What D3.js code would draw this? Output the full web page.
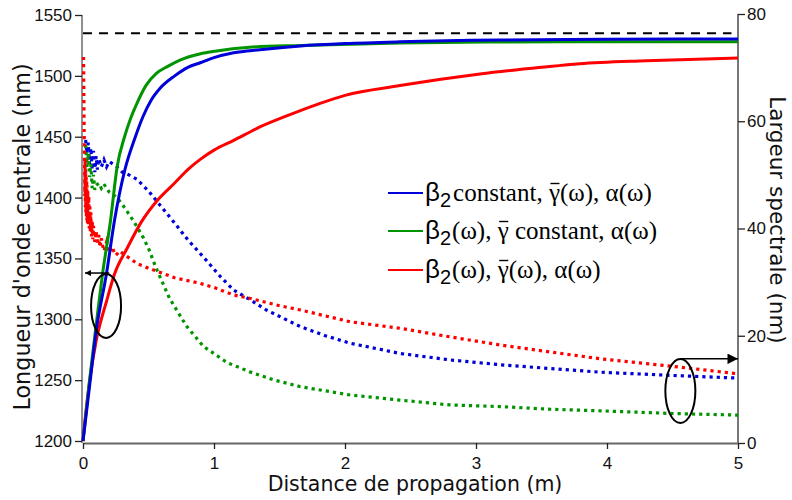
<!DOCTYPE html>
<html><head><meta charset="utf-8">
<script src="https://cdn.jsdelivr.net/npm/d3@7/dist/d3.min.js"></script>
<style>body{margin:0;background:#fff}svg{display:block}</style>
</head><body>
<svg id="c" width="792" height="500"></svg>
<script>
// ---- data ----
const xTicks = [0, 1, 2, 3, 4, 5];
const leftTicks = [1200, 1250, 1300, 1350, 1400, 1450, 1500, 1550];
const rightTicks = [0, 20, 40, 60, 80];
const legendLabels = ["constant, γ̄(ω), α(ω)", "(ω), γ̄ constant, α(ω)", "(ω), γ̄(ω), α(ω)"];
const seriesColors = ["#0000d8", "#009400", "#ff0000"];
const referenceWavelength = 1535; // dashed line (nm)
const referenceRange = [0, 4.95];

// central wavelength (nm) vs distance (m)  -- solid lines
const lambdaBlue = [[0,1200],[0.05,1245],[0.1,1290],[0.18,1338],[0.24,1381],[0.32,1423],[0.4,1450],[0.46,1467],[0.52,1480],[0.59,1490],[0.7,1500],[0.8,1507],[0.9,1511],[1.0,1515],[1.15,1519],[1.35,1521.5],[1.66,1524.5],[2.0,1526.5],[2.42,1528],[3.18,1529.5],[4.0,1530],[5.0,1530.3]];
const lambdaGreen = [[0,1200],[0.05,1250],[0.1,1295],[0.15,1338],[0.21,1381],[0.26,1425],[0.32,1451],[0.36,1464],[0.41,1477],[0.48,1492],[0.56,1502],[0.65,1508],[0.74,1513],[0.89,1518],[1.02,1520.5],[1.27,1523.5],[1.66,1525],[2.42,1527],[3.18,1527.8],[4.0,1528],[5.0,1528]];
const lambdaRed = [[0,1200],[0.02,1222],[0.05,1249],[0.1,1282],[0.18,1315],[0.24,1337],[0.34,1359],[0.44,1379],[0.57,1398],[0.7,1412],[0.8,1423],[0.89,1431],[1.0,1439],[1.15,1447],[1.35,1458],[1.6,1469],[1.8,1477],[2.0,1484],[2.42,1492],[3.03,1501.5],[3.5,1507],[3.79,1510],[4.3,1512.5],[5.0,1514.7]];

// spectral width (nm) vs distance (m)  -- dotted lines
const widthBlue = [[0.02,56.5],[0.03,54],[0.04,56],[0.05,52],[0.06,55],[0.07,51],[0.08,54.5],[0.09,50.5],[0.1,53.5],[0.11,51],[0.12,53],[0.14,51.5],[0.16,52.8],[0.18,51.5],[0.2,52.5],[0.23,52],[0.26,51.5],[0.3,50.5],[0.35,50],[0.41,49.2],[0.5,47],[0.59,44.3],[0.7,41],[0.8,37.9],[0.94,34.1],[1.05,31],[1.15,28.5],[1.27,26.8],[1.4,24.8],[1.66,21.7],[1.85,20],[2.04,18.6],[2.42,16.7],[2.8,15.5],[3.18,14.6],[3.56,13.9],[3.95,13.2],[4.5,12.6],[5.0,12.1]];
const widthGreen = [[0.02,55.6],[0.03,51.5],[0.04,54],[0.05,49.6],[0.06,52],[0.07,47.5],[0.08,50],[0.09,47.2],[0.1,48],[0.12,48.5],[0.14,47.5],[0.16,48.3],[0.18,47.5],[0.2,46.8],[0.26,45.8],[0.32,43.8],[0.38,41.6],[0.42,40],[0.46,38.3],[0.5,36.3],[0.56,32.5],[0.66,27],[0.79,21.8],[0.92,18],[1.1,15],[1.27,13.3],[1.45,11.8],[1.66,10.5],[2.04,8.95],[2.42,8],[2.8,7.1],[3.18,6.8],[3.56,6.3],[3.95,6],[4.5,5.5],[5.0,5.2]];
const widthRed = [[0.004,72],[0.006,66],[0.008,60],[0.01,56],[0.012,52],[0.014,46],[0.016,53],[0.018,44],[0.02,51],[0.022,43],[0.024,50],[0.026,42],[0.028,49],[0.03,41.5],[0.032,48],[0.034,41],[0.036,47],[0.04,40.5],[0.044,46],[0.048,40],[0.052,44.5],[0.056,39.5],[0.06,43],[0.065,38.5],[0.07,41.5],[0.075,38],[0.08,40.5],[0.09,37.5],[0.1,39.5],[0.11,37],[0.12,38.8],[0.13,36.5],[0.14,38.2],[0.15,36.8],[0.16,35.8],[0.18,37.5],[0.2,35.5],[0.22,36.6],[0.25,35],[0.28,35.8],[0.31,35.2],[0.36,34.4],[0.41,33.5],[0.5,32.6],[0.59,31.8],[0.7,30.8],[0.89,29.8],[1.0,29],[1.15,27.6],[1.27,27],[1.5,25.6],[1.66,24.8],[2.04,22.6],[2.42,21.4],[2.8,19.8],[3.18,18.3],[3.56,17],[3.95,15.7],[4.5,14.3],[5.0,12.9]];

// annotations: ellipse centres (x in m, y in axis units) and arrows
const leftMarker = {cx:0.176, cy:1311, arrowFrom:0.2, arrowTo:0.015, arrowY:1338};
const rightMarker = {cx:4.56, cy:9.7, arrowFrom:4.56, arrowTo:5.0, arrowY:15.7};

// ---- drawing ----
const svg = d3.select("#c");
const x = d3.scaleLinear().domain([0,5]).range([83,738]);
const yL = d3.scaleLinear().domain([1200,1550]).range([441,15]);
const yR = d3.scaleLinear().domain([0,80]).range([443,14]);
const tickFont = "'Liberation Sans', Arial, sans-serif";
const titleFont = "'DejaVu Sans', Verdana, sans-serif";
const serifFont = "'Liberation Serif','Times New Roman',serif";

function styleAxis(g, lineColor){
  g.select(".domain").attr("stroke", lineColor).attr("stroke-width", 2);
  g.selectAll(".tick line").attr("stroke", "#222").attr("stroke-width", 1.3);
  g.selectAll(".tick text").attr("font-family", tickFont).attr("font-size", 17).attr("fill", "#111");
  g.attr("font-family", null).attr("font-size", null);
}

const gx = svg.append("g").attr("transform","translate(0,443)")
  .call(d3.axisBottom(x).tickValues(xTicks).tickFormat(d3.format("d")).tickSize(6).tickSizeOuter(0).tickPadding(8));
styleAxis(gx, "#666");
const gl = svg.append("g").attr("transform","translate(82,0)")
  .call(d3.axisLeft(yL).tickValues(leftTicks).tickFormat(d3.format("d")).tickSize(7).tickSizeOuter(0).tickPadding(3));
styleAxis(gl, "#909090");
gl.select(".domain").attr("d", `M0,${yL(1550)}V443`);
const gr = svg.append("g").attr("transform","translate(738,0)")
  .call(d3.axisRight(yR).tickValues(rightTicks).tickFormat(d3.format("d")).tickSize(7).tickSizeOuter(0).tickPadding(2));
styleAxis(gr, "#777");
gr.select(".domain").attr("d", `M0,${yR(80)}V444`);

// titles
svg.append("text").attr("x", 415).attr("y", 491).attr("text-anchor","middle")
  .attr("font-family", titleFont).attr("font-size", 20.5).attr("fill","#111")
  .text("Distance de propagation (m)");
svg.append("text").attr("transform","translate(30,237) rotate(-90)").attr("text-anchor","middle")
  .attr("font-family", titleFont).attr("font-size", 22.3).attr("fill","#111")
  .text("Longueur d'onde centrale (nm)");
svg.append("text").attr("transform","translate(770,220) rotate(90)").attr("text-anchor","middle")
  .attr("font-family", titleFont).attr("font-size", 21.5).attr("fill","#111")
  .text("Largeur spectrale (nm)");

// dashed reference
const lineL = d3.line().x(d=>x(d[0])).y(d=>yL(d[1]));
const lineR = d3.line().x(d=>x(d[0])).y(d=>yR(d[1]));
svg.append("path").datum(referenceRange.map(v=>[v, referenceWavelength]))
  .attr("d", lineL).attr("fill","none").attr("stroke","#000").attr("stroke-width",2).attr("stroke-dasharray","9,7");

// dotted spectral width curves
[[widthBlue,0],[widthGreen,1],[widthRed,2]].forEach(([data,i])=>{
  svg.append("path").datum(data).attr("d", lineR).attr("fill","none")
    .attr("stroke", seriesColors[i]).attr("stroke-width", 3.2).attr("stroke-dasharray","3.2,4");
});
// solid wavelength curves
[[lambdaRed,2],[lambdaGreen,1],[lambdaBlue,0]].forEach(([data,i])=>{
  svg.append("path").datum(data).attr("d", d3.line().curve(d3.curveMonotoneX).x(d=>x(d[0])).y(d=>yL(d[1])))
    .attr("fill","none").attr("stroke", seriesColors[i]).attr("stroke-width", 3);
});

// annotations
svg.append("defs").html('<marker id="ah" viewBox="0 0 10 10" refX="10" refY="5" markerWidth="9.5" markerHeight="7" orient="auto" markerUnits="strokeWidth"><path d="M0,0L10,5L0,10z" fill="#000"/></marker>'+
  '<marker id="ahs" viewBox="0 0 10 10" refX="10" refY="5" markerWidth="5" markerHeight="4" orient="auto" markerUnits="strokeWidth"><path d="M0,0L10,5L0,10z" fill="#000"/></marker>');
svg.append("ellipse").attr("cx", x(leftMarker.cx)).attr("cy", yL(leftMarker.cy)).attr("rx",15).attr("ry",32)
  .attr("fill","none").attr("stroke","#000").attr("stroke-width",2);
svg.append("line").attr("x1", x(leftMarker.arrowFrom)).attr("x2", x(leftMarker.arrowTo))
  .attr("y1", yL(leftMarker.arrowY)).attr("y2", yL(leftMarker.arrowY))
  .attr("stroke","#000").attr("stroke-width",1.5).attr("marker-end","url(#ahs)");
svg.append("ellipse").attr("cx", x(rightMarker.cx)).attr("cy", yR(rightMarker.cy)).attr("rx",15).attr("ry",32)
  .attr("fill","none").attr("stroke","#000").attr("stroke-width",2);
svg.append("line").attr("x1", x(rightMarker.arrowFrom)).attr("x2", x(rightMarker.arrowTo))
  .attr("y1", yR(rightMarker.arrowY)).attr("y2", yR(rightMarker.arrowY))
  .attr("stroke","#000").attr("stroke-width",1.5).attr("marker-end","url(#ah)");

// legend
const lg = svg.append("g").attr("transform","translate(388,193)");
legendLabels.forEach((lab,i)=>{
  const g = lg.append("g").attr("transform",`translate(0,${[0,38,77][i]})`);
  g.append("line").attr("x1",0).attr("x2",35).attr("y1",0).attr("y2",0)
    .attr("stroke", seriesColors[i]).attr("stroke-width",2);
  const t = g.append("text").attr("x",37).attr("y",8).attr("fill","#000");
  t.append("tspan").attr("font-family", tickFont).attr("font-size", 26).text("β");
  t.append("tspan").attr("font-family", tickFont).attr("font-size", 20).attr("dy", 6).text("2");
  const parts = lab.split("γ̄");
  t.append("tspan").attr("font-family", serifFont).attr("font-size", 25).attr("dy", -6).attr("dx", i===0?2:1).text(parts[0]);
  t.append("tspan").attr("font-family", serifFont).attr("font-size", 25).text("γ");
  t.append("tspan").attr("font-family", serifFont).attr("font-size", 25).text(parts[1]);
  // overline bar above gamma
  try {
    const idx = 2 + parts[0].length;
    const ext = t.node().getExtentOfChar(idx);
    g.append("line").attr("x1", ext.x + 1.5).attr("x2", ext.x + ext.width - 0.5)
      .attr("y1", 8 - 17.5).attr("y2", 8 - 17.5).attr("stroke", "#000").attr("stroke-width", 1.4);
  } catch(e) {}
});
</script>
</body></html>
